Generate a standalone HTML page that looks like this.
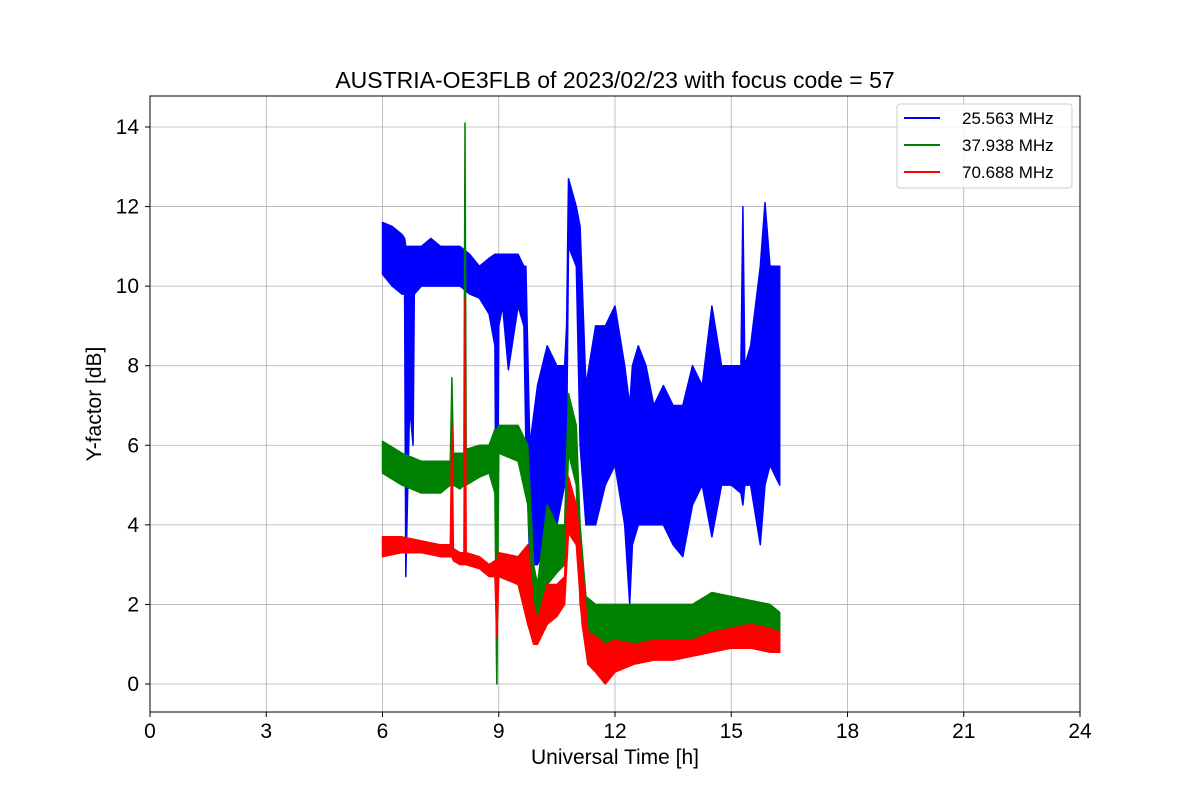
<!DOCTYPE html>
<html><head><meta charset="utf-8"><style>
body{margin:0;background:#fff;}
svg{display:block;font-family:"Liberation Sans","DejaVu Sans",sans-serif;}
</style></head><body>
<svg id="chart" width="1200" height="800">
<rect width="1200" height="800" fill="#fff"/>
<g id="grid"></g>
<g id="series"></g>
<rect x="150" y="96" width="930" height="616" fill="none" stroke="#000" stroke-width="1"/>
<g id="ticks"></g>
<text x="615" y="88" text-anchor="middle" font-size="23">AUSTRIA-OE3FLB of 2023/02/23 with focus code = 57</text>
<text x="615" y="764" text-anchor="middle" font-size="21">Universal Time [h]</text>
<text transform="translate(101,404) rotate(-90)" text-anchor="middle" font-size="21">Y-factor [dB]</text>
<g>
<rect x="897" y="104" width="175" height="84" rx="3" fill="#fff" fill-opacity="0.8" stroke="#ccc"/>
<g><line x1="904" y1="118" x2="940" y2="118" stroke="blue" stroke-width="2"/><text x="962" y="124" font-size="17">25.563 MHz</text></g>
<g><line x1="904" y1="145" x2="940" y2="145" stroke="green" stroke-width="2"/><text x="962" y="151" font-size="17">37.938 MHz</text></g>
<g><line x1="904" y1="172" x2="940" y2="172" stroke="red" stroke-width="2"/><text x="962" y="178" font-size="17">70.688 MHz</text></g>
</g>
</svg>
<script>
const xTicks=[0,3,6,9,12,15,18,21,24];
const yTicks=[0,2,4,6,8,10,12,14];
const blueT=[6.0,6.25,6.5,6.57,6.6,6.7,6.79,6.82,7.0,7.25,7.5,7.75,8.0,8.25,8.5,8.75,8.9,8.95,9.0,9.1,9.25,9.5,9.65,9.7,9.8,10.0,10.25,10.5,10.7,10.75,10.8,11.0,11.1,11.25,11.5,11.75,12.0,12.25,12.38,12.45,12.6,12.8,13.0,13.25,13.5,13.75,14.0,14.25,14.5,14.75,15.0,15.25,15.3,15.35,15.5,15.75,15.87,16.0,16.25];
const blueLo=[10.3,10.0,9.8,9.8,2.7,7.0,6.0,9.8,10.0,10.0,10.0,10.0,10.0,9.8,9.7,9.3,8.5,0.0,9.0,9.5,7.9,9.5,9.0,6.0,3.0,3.0,3.5,4.0,5.0,6.0,11.0,10.5,6.0,4.0,4.0,5.0,5.5,4.0,2.0,3.5,4.0,4.0,4.0,4.0,3.5,3.2,4.5,5.0,3.7,5.0,5.0,4.8,4.5,5.0,5.0,3.5,5.0,5.5,5.0];
const blueHi=[11.6,11.5,11.3,11.2,11.0,11.0,11.0,11.0,11.0,11.2,11.0,11.0,11.0,10.8,10.5,10.7,10.8,10.8,10.8,10.8,10.8,10.8,10.5,10.5,6.0,7.5,8.5,8.0,8.0,9.0,12.7,12.0,11.5,7.5,9.0,9.0,9.5,8.0,7.0,8.0,8.5,8.0,7.0,7.5,7.0,7.0,8.0,7.5,9.5,8.0,8.0,8.0,12.0,8.0,8.5,10.5,12.1,10.5,10.5];
const greenT=[6.0,6.5,7.0,7.5,7.75,7.79,7.83,8.0,8.1,8.13,8.16,8.5,8.75,8.9,8.95,9.0,9.5,9.75,9.9,10.0,10.25,10.5,10.7,10.8,11.0,11.1,11.25,11.5,12.0,12.5,13.0,13.5,14.0,14.5,15.0,15.5,16.0,16.25];
const greenLo=[5.3,5.0,4.8,4.8,5.0,5.0,5.0,4.9,5.0,5.0,5.0,5.2,5.3,4.8,0.0,5.8,5.6,4.5,1.5,1.5,2.5,2.8,3.0,5.8,5.0,2.0,1.0,0.8,0.9,1.0,1.0,1.0,1.1,1.2,1.3,1.2,1.2,1.2];
const greenHi=[6.1,5.8,5.6,5.6,5.6,7.7,5.8,5.8,5.8,14.1,5.9,6.0,6.0,6.4,6.4,6.5,6.5,6.0,3.0,2.5,4.5,4.0,4.0,7.3,6.5,4.0,2.2,2.0,2.0,2.0,2.0,2.0,2.0,2.3,2.2,2.1,2.0,1.8];
const redT=[6.0,6.5,7.0,7.5,7.75,7.79,7.83,8.0,8.1,8.13,8.16,8.5,8.75,8.9,8.95,9.0,9.5,9.75,9.9,10.0,10.25,10.5,10.7,10.8,11.0,11.15,11.3,11.5,11.75,12.0,12.5,13.0,13.5,14.0,14.5,15.0,15.5,16.0,16.25];
const redLo=[3.2,3.3,3.3,3.2,3.2,3.2,3.1,3.0,3.0,3.0,3.0,2.9,2.7,2.7,1.2,2.7,2.5,1.5,1.0,1.0,1.5,1.7,2.0,3.8,3.5,1.5,0.5,0.3,0.0,0.3,0.5,0.6,0.6,0.7,0.8,0.9,0.9,0.8,0.8];
const redHi=[3.7,3.7,3.6,3.5,3.5,6.5,3.4,3.3,3.3,9.7,3.3,3.2,3.0,3.1,3.1,3.3,3.2,3.5,2.0,1.6,2.5,2.5,2.7,5.2,4.5,3.0,1.3,1.2,1.0,1.1,1.0,1.1,1.1,1.1,1.3,1.4,1.5,1.4,1.3];

const NS='http://www.w3.org/2000/svg';
const X=v=>150+v*(930/24);
const Y=v=>684-v*(557/14);
const grid=document.getElementById('grid'),ticks=document.getElementById('ticks'),ser=document.getElementById('series');
function mk(tag,attrs,parent){const e=document.createElementNS(NS,tag);for(const k in attrs)e.setAttribute(k,attrs[k]);parent.appendChild(e);return e;}
xTicks.forEach(t=>{
  const g=mk('line',{x1:X(t),x2:X(t),y1:96,y2:712,stroke:'#b0b0b0','stroke-width':0.8},grid);
  
  
  mk('line',{x1:X(t),x2:X(t),y1:712,y2:717,stroke:'#000'},ticks);
  const l=mk('text',{x:X(t),y:738,'text-anchor':'middle','font-size':21},ticks);
  l.textContent=t;
  
  
});
yTicks.forEach(t=>{
  const g=mk('line',{x1:150,x2:1080,y1:Y(t),y2:Y(t),stroke:'#b0b0b0','stroke-width':0.8},grid);
  
  
  mk('line',{x1:145,x2:150,y1:Y(t),y2:Y(t),stroke:'#000'},ticks);
  const l=mk('text',{x:139,y:Y(t)+7,'text-anchor':'end','font-size':21},ticks);
  l.textContent=t;
  
  
});
function band(T,lo,hi,color,name){
  const top=T.map((t,i)=>X(t).toFixed(1)+','+Y(hi[i]).toFixed(1));
  const bot=T.map((t,i)=>X(t).toFixed(1)+','+Y(lo[i]).toFixed(1)).reverse();
  const p=mk('polygon',{points:top.concat(bot).join(' '),fill:color,stroke:color,'stroke-width':1.5,'stroke-linejoin':'round'},ser);
  
  
}
band(blueT,blueLo,blueHi,'blue','series-25563-mhz');
band(greenT,greenLo,greenHi,'green','series-37938-mhz');
band(redT,redLo,redHi,'red','series-70688-mhz');
</script>
</body></html>
